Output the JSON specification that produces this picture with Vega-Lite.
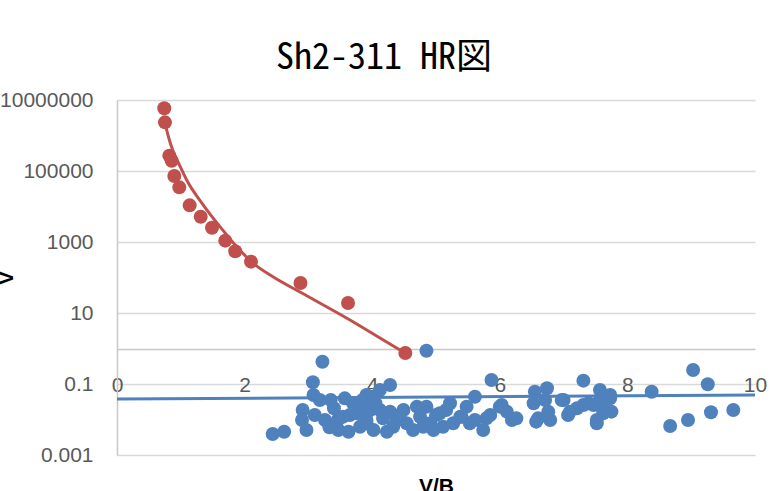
{
  "$schema": "https://vega.github.io/schema/vega-lite/v6.json",
  "width": 638,
  "height": 355,
  "autosize": "none",
  "padding": {"left": 117, "top": 100, "right": 16, "bottom": 36},
  "background": "white",
  "title": {
    "text": "Sh2-311 HR図",
    "font": "Noto Sans Mono CJK JP, DejaVu Sans Mono, Noto Sans CJK JP",
    "fontSize": 36,
    "fontWeight": "normal",
    "color": "#000000",
    "anchor": "middle",
    "frame": "group",
    "dx": -52,
    "offset": 12
  },
  "config": {"view": {"stroke": null}},
  "datasets": {
    "stars": [
      {"series": "blue", "x": 3.22, "y": 0.425},
      {"series": "blue", "x": 3.07, "y": 0.112},
      {"series": "blue", "x": 3.08, "y": 0.049},
      {"series": "blue", "x": 3.18, "y": 0.0354},
      {"series": "blue", "x": 3.35, "y": 0.0354},
      {"series": "blue", "x": 3.57, "y": 0.0395},
      {"series": "blue", "x": 2.91, "y": 0.0185},
      {"series": "blue", "x": 2.90, "y": 0.00968},
      {"series": "blue", "x": 3.10, "y": 0.0134},
      {"series": "blue", "x": 3.26, "y": 0.00968},
      {"series": "blue", "x": 2.97, "y": 0.00506},
      {"series": "blue", "x": 2.44, "y": 0.00389},
      {"series": "blue", "x": 2.62, "y": 0.00453},
      {"series": "blue", "x": 3.46, "y": 0.00968},
      {"series": "blue", "x": 3.54, "y": 0.012},
      {"series": "blue", "x": 3.65, "y": 0.0134},
      {"series": "blue", "x": 3.76, "y": 0.015},
      {"series": "blue", "x": 3.47, "y": 0.00506},
      {"series": "blue", "x": 3.63, "y": 0.00453},
      {"series": "blue", "x": 3.81, "y": 0.00627},
      {"series": "blue", "x": 3.91, "y": 0.00968},
      {"series": "blue", "x": 3.91, "y": 0.049},
      {"series": "blue", "x": 3.40, "y": 0.0207},
      {"series": "blue", "x": 3.70, "y": 0.0286},
      {"series": "blue", "x": 3.85, "y": 0.0354},
      {"series": "blue", "x": 3.33, "y": 0.006},
      {"series": "blue", "x": 4.85, "y": 0.867},
      {"series": "blue", "x": 4.28, "y": 0.0938},
      {"series": "blue", "x": 4.12, "y": 0.0678},
      {"series": "blue", "x": 4.02, "y": 0.0439},
      {"series": "blue", "x": 3.89, "y": 0.023},
      {"series": "blue", "x": 3.97, "y": 0.0185},
      {"series": "blue", "x": 4.12, "y": 0.0185},
      {"series": "blue", "x": 4.28, "y": 0.0166},
      {"series": "blue", "x": 4.38, "y": 0.00968},
      {"series": "blue", "x": 4.49, "y": 0.0185},
      {"series": "blue", "x": 3.91, "y": 0.00781},
      {"series": "blue", "x": 4.02, "y": 0.00506},
      {"series": "blue", "x": 4.23, "y": 0.00453},
      {"series": "blue", "x": 4.33, "y": 0.00627},
      {"series": "blue", "x": 4.54, "y": 0.00781},
      {"series": "blue", "x": 4.64, "y": 0.00506},
      {"series": "blue", "x": 4.75, "y": 0.012},
      {"series": "blue", "x": 4.85, "y": 0.023},
      {"series": "blue", "x": 4.91, "y": 0.00781},
      {"series": "blue", "x": 5.06, "y": 0.015},
      {"series": "blue", "x": 5.11, "y": 0.00627},
      {"series": "blue", "x": 5.22, "y": 0.0286},
      {"series": "blue", "x": 5.27, "y": 0.00781},
      {"series": "blue", "x": 5.38, "y": 0.012},
      {"series": "blue", "x": 5.48, "y": 0.023},
      {"series": "blue", "x": 4.80, "y": 0.00627},
      {"series": "blue", "x": 4.96, "y": 0.00506},
      {"series": "blue", "x": 4.05, "y": 0.0286},
      {"series": "blue", "x": 4.17, "y": 0.0108},
      {"series": "blue", "x": 4.43, "y": 0.0134},
      {"series": "blue", "x": 4.70, "y": 0.023},
      {"series": "blue", "x": 5.00, "y": 0.0134},
      {"series": "blue", "x": 5.16, "y": 0.0185},
      {"series": "blue", "x": 5.87, "y": 0.13},
      {"series": "blue", "x": 5.61, "y": 0.0439},
      {"series": "blue", "x": 5.40, "y": 0.012},
      {"series": "blue", "x": 5.53, "y": 0.00781},
      {"series": "blue", "x": 5.61, "y": 0.00968},
      {"series": "blue", "x": 5.74, "y": 0.00506},
      {"series": "blue", "x": 5.79, "y": 0.0108},
      {"series": "blue", "x": 5.85, "y": 0.0134},
      {"series": "blue", "x": 6.03, "y": 0.0256},
      {"series": "blue", "x": 6.11, "y": 0.0166},
      {"series": "blue", "x": 6.19, "y": 0.00968},
      {"series": "blue", "x": 6.26, "y": 0.0108},
      {"series": "blue", "x": 6.55, "y": 0.0607},
      {"series": "blue", "x": 6.74, "y": 0.0757},
      {"series": "blue", "x": 6.53, "y": 0.0286},
      {"series": "blue", "x": 6.60, "y": 0.0108},
      {"series": "blue", "x": 6.76, "y": 0.0166},
      {"series": "blue", "x": 6.79, "y": 0.00968},
      {"series": "blue", "x": 6.97, "y": 0.0354},
      {"series": "blue", "x": 7.07, "y": 0.0134},
      {"series": "blue", "x": 6.00, "y": 0.023},
      {"series": "blue", "x": 6.57, "y": 0.0087},
      {"series": "blue", "x": 6.71, "y": 0.0354},
      {"series": "blue", "x": 7.31, "y": 0.124},
      {"series": "blue", "x": 7.00, "y": 0.0354},
      {"series": "blue", "x": 7.10, "y": 0.0166},
      {"series": "blue", "x": 7.21, "y": 0.0207},
      {"series": "blue", "x": 7.31, "y": 0.0256},
      {"series": "blue", "x": 7.39, "y": 0.0286},
      {"series": "blue", "x": 7.57, "y": 0.0678},
      {"series": "blue", "x": 7.57, "y": 0.0354},
      {"series": "blue", "x": 7.73, "y": 0.049},
      {"series": "blue", "x": 7.75, "y": 0.0166},
      {"series": "blue", "x": 7.52, "y": 0.00968},
      {"series": "blue", "x": 7.62, "y": 0.015},
      {"series": "blue", "x": 7.47, "y": 0.0256},
      {"series": "blue", "x": 7.62, "y": 0.0286},
      {"series": "blue", "x": 7.73, "y": 0.0395},
      {"series": "blue", "x": 7.52, "y": 0.0078},
      {"series": "blue", "x": 8.38, "y": 0.0607},
      {"series": "blue", "x": 8.67, "y": 0.00656},
      {"series": "blue", "x": 9.03, "y": 0.248},
      {"series": "blue", "x": 9.26, "y": 0.098},
      {"series": "blue", "x": 8.95, "y": 0.00968},
      {"series": "blue", "x": 9.31, "y": 0.016},
      {"series": "blue", "x": 9.66, "y": 0.0185},
      {"series": "red", "x": 0.741, "y": 5840000},
      {"series": "red", "x": 0.752, "y": 2350000},
      {"series": "red", "x": 0.82, "y": 270000},
      {"series": "red", "x": 0.857, "y": 195000},
      {"series": "red", "x": 0.898, "y": 72300},
      {"series": "red", "x": 0.976, "y": 34700},
      {"series": "red", "x": 1.139, "y": 10800},
      {"series": "red", "x": 1.312, "y": 5160},
      {"series": "red", "x": 1.489, "y": 2530},
      {"series": "red", "x": 1.697, "y": 1090},
      {"series": "red", "x": 1.853, "y": 547},
      {"series": "red", "x": 2.1, "y": 279},
      {"series": "red", "x": 2.876, "y": 70},
      {"series": "red", "x": 3.621, "y": 19.1},
      {"series": "red", "x": 4.519, "y": 0.747}
    ],
    "trends": [
      {"series": "red", "x": 0.737, "y": 3110000},
      {"series": "red", "x": 0.799, "y": 1030000},
      {"series": "red", "x": 0.882, "y": 350000},
      {"series": "red", "x": 0.987, "y": 138000},
      {"series": "red", "x": 1.092, "y": 55700},
      {"series": "red", "x": 1.353, "y": 11000},
      {"series": "red", "x": 1.614, "y": 2700},
      {"series": "red", "x": 1.876, "y": 738},
      {"series": "red", "x": 2.137, "y": 251},
      {"series": "red", "x": 2.45, "y": 103},
      {"series": "red", "x": 2.868, "y": 39},
      {"series": "red", "x": 3.652, "y": 6.35},
      {"series": "red", "x": 4.174, "y": 1.73},
      {"series": "red", "x": 4.514, "y": 0.747},
      {"series": "blue", "x": 0, "y": 0.0378},
      {"series": "blue", "x": 10, "y": 0.049}
    ]
  },
  "layer": [
    {
      "data": {"name": "stars"},
      "mark": {"type": "point", "filled": true, "opacity": 1, "size": 195},
      "encoding": {
        "x": {
          "field": "x",
          "type": "quantitative",
          "scale": {"domain": [0, 10], "nice": false},
          "axis": {
            "values": [0, 2, 4, 6, 8, 10],
            "format": "d",
            "title": "V/B",
            "grid": false,
            "ticks": false,
            "offset": -106,
            "domainColor": "#c8c8c8",
            "domainWidth": 1.5,
            "labelPadding": 25,
            "labelFlush": false,
            "labelFont": "Liberation Sans",
            "labelFontSize": 21,
            "labelColor": "#595959",
            "titleFont": "Liberation Sans",
            "titleFontSize": 21,
            "titleFontWeight": "bold",
            "titleColor": "#000000",
            "titlePadding": 80
          }
        },
        "y": {
          "field": "y",
          "type": "quantitative",
          "scale": {"type": "log", "domain": [0.001, 10000000], "nice": false},
          "axis": {
            "values": [0.001, 0.1, 10, 1000, 100000, 10000000],
            "labelExpr": "datum.value >= 1 ? format(datum.value, 'd') : format(datum.value, '~g')",
            "title": "V",
            "grid": true,
            "gridColor": "#d9d9d9",
            "gridWidth": 1.5,
            "ticks": false,
            "domainColor": "#c8c8c8",
            "domainWidth": 1.5,
            "labelPadding": 24,
            "labelFont": "Liberation Sans",
            "labelFontSize": 21,
            "labelColor": "#595959",
            "titleFont": "Liberation Sans",
            "titleFontSize": 21,
            "titleFontWeight": "bold",
            "titleColor": "#000000",
            "titlePadding": -17
          }
        },
        "color": {
          "field": "series",
          "type": "nominal",
          "scale": {"domain": ["blue", "red"], "range": ["#4F81BD", "#C0504D"]},
          "legend": null
        },
        "order": {"field": "series", "sort": "ascending"}
      }
    },
    {
      "data": {"name": "trends"},
      "mark": {"type": "line", "strokeWidth": 3, "interpolate": "monotone"},
      "encoding": {
        "x": {"field": "x", "type": "quantitative"},
        "y": {"field": "y", "type": "quantitative"},
        "color": {"field": "series", "type": "nominal", "legend": null},
        "detail": {"field": "series"}
      }
    }
  ]
}
